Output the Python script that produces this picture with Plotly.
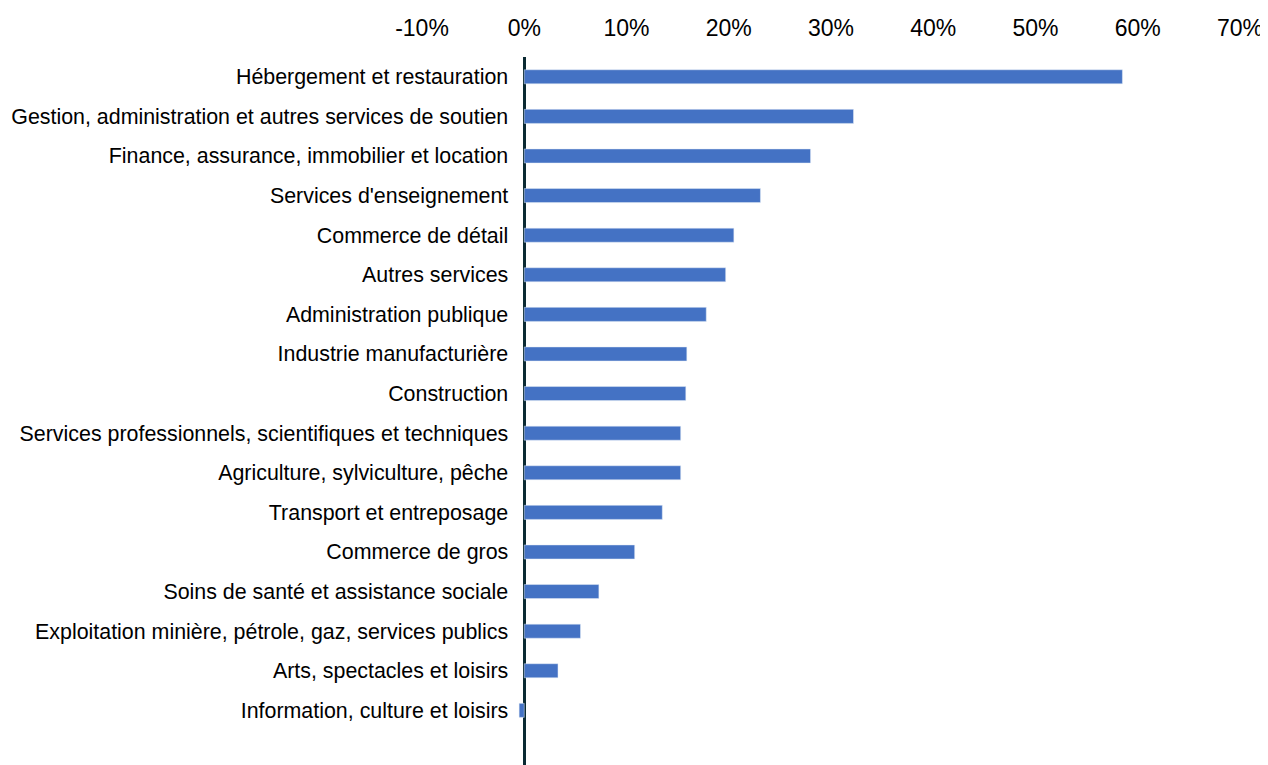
"""Croissance par secteur d'activité (barres horizontales)."""

import plotly.graph_objects as go

SECTEURS = [
    "Hébergement et restauration",
    "Gestion, administration et autres services de soutien",
    "Finance, assurance, immobilier et location",
    "Services d'enseignement",
    "Commerce de détail",
    "Autres services",
    "Administration publique",
    "Industrie manufacturière",
    "Construction",
    "Services professionnels, scientifiques et techniques",
    "Agriculture, sylviculture, pêche",
    "Transport et entreposage",
    "Commerce de gros",
    "Soins de santé et assistance sociale",
    "Exploitation minière, pétrole, gaz, services publics",
    "Arts, spectacles et loisirs",
    "Information, culture et loisirs",
]
VARIATION = [
    0.585, 0.322, 0.280, 0.231, 0.205, 0.197, 0.178, 0.159, 0.158,
    0.153, 0.153, 0.135, 0.108, 0.073, 0.055, 0.033, -0.005,
]
TICKS = [-0.1, 0.0, 0.1, 0.2, 0.3, 0.4, 0.5, 0.6, 0.7]
TICK_LABELS = ["-10%", "0%", "10%", "20%", "30%", "40%", "50%", "60%", "70%"]

BLUE = "#4472C4"
AXIS_DARK = "#0B2A33"
FONT = "Liberation Sans, Arial, sans-serif"

fig = go.Figure(
    go.Bar(
        x=VARIATION,
        y=SECTEURS,
        orientation="h",
        marker_color=BLUE,
        width=0.355,
        showlegend=False,
    )
)

# the page body adds an 8px margin, so the figure is a bit smaller than the window
fig.update_layout(
    width=1260,
    height=757,
    margin=dict(l=414, r=28, t=49, b=0),
    plot_bgcolor="white",
    paper_bgcolor="white",
    font=dict(family=FONT, color="black"),
    xaxis=dict(
        side="top",
        range=[-0.1, 0.7],
        tickvals=TICKS,
        ticktext=TICK_LABELS,
        tickfont=dict(size=23, color="black"),
        showgrid=False,
        showline=False,
        zeroline=True,
        zerolinecolor=AXIS_DARK,
        zerolinewidth=3,
        ticks="",
        ticklabelstandoff=15,
    ),
    yaxis=dict(
        type="category",
        categoryorder="array",
        categoryarray=SECTEURS,
        range=[17.38, -0.5],
        anchor="free",
        position=0.125,
        tickfont=dict(size=21.4, color="black"),
        showgrid=False,
        showline=False,
        zeroline=False,
        ticks="",
        ticklabelstandoff=16,
        automargin=False,
    ),
)

fig.write_html("out.html")
